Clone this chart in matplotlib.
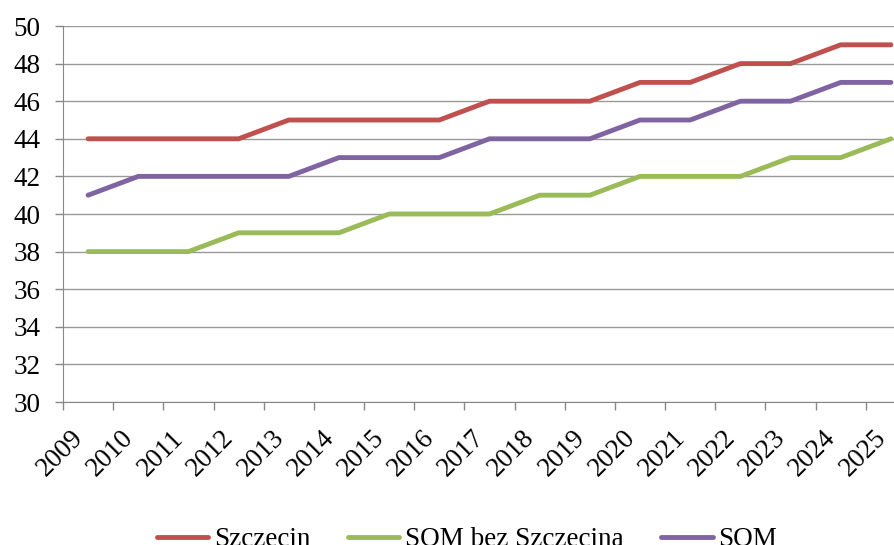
import matplotlib.pyplot as plt

years = [str(y) for y in range(2009, 2026)]
szczecin = [44, 44, 44, 44, 45, 45, 45, 45, 46, 46, 46, 47, 47, 48, 48, 49, 49]
som_bez = [38, 38, 38, 39, 39, 39, 40, 40, 40, 41, 41, 42, 42, 42, 43, 43, 44]
som = [41, 42, 42, 42, 42, 43, 43, 43, 44, 44, 44, 45, 45, 46, 46, 47, 47]

plt.rcParams['font.family'] = ['Liberation Serif', 'DejaVu Serif']

fig = plt.figure(figsize=(8.95, 5.45), dpi=100)
ax = fig.add_axes([63 / 895, 1 - 402 / 545, 853 / 895, 376 / 545])

x = list(range(len(years)))
ax.plot(x, szczecin, color='#C0504D', lw=3.5, label='Szczecin', solid_capstyle='round')
ax.plot(x, som_bez, color='#9BBB59', lw=3.5, label='SOM bez Szczecina', solid_capstyle='round')
ax.plot(x, som, color='#8064A2', lw=3.5, label='SOM', solid_capstyle='round')

ax.set_ylim(30, 50)
ax.set_yticks(range(30, 51, 2))
ax.set_xlim(-0.5, len(years) - 0.5)
ax.set_xticks(x)
ax.set_xticklabels(years, rotation=45, ha='right', va='top')
ax.set_xticks([i - 0.5 for i in range(len(years) + 1)], minor=True)
ax.tick_params(axis='x', which='major', length=0, pad=17, labelsize=19.5)
ax.tick_params(axis='x', which='minor', length=6, color='#888888', width=1)
ax.tick_params(axis='y', length=6, color='#888888', width=1, pad=10, labelsize=19.5)

ax.grid(axis='y', color='#999999', lw=1)
ax.set_axisbelow(True)
for s in ['top', 'right']:
    ax.spines[s].set_visible(False)
for s in ['left', 'bottom']:
    ax.spines[s].set_color('#888888')

fig.legend(loc='center', bbox_to_anchor=(467 / 895, 1 - 540 / 545), ncol=3, frameon=False,
           fontsize=19.5, handlelength=1.9, handletextpad=0.2, columnspacing=1.4)

fig.savefig('out.png', dpi=100)
